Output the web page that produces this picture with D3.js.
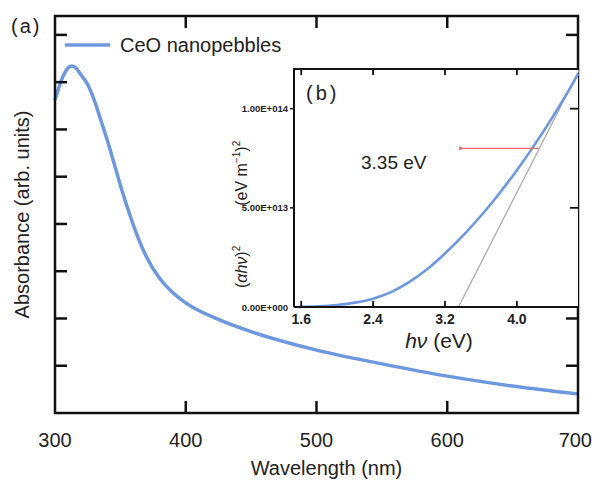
<!DOCTYPE html>
<html>
<head>
<meta charset="utf-8">
<script src="https://cdn.jsdelivr.net/npm/d3@7"></script>
<style>
  body { margin: 0; background: #fff; }
  text { font-family: "Liberation Sans", Arial, sans-serif; fill: #222; }
</style>
</head>
<body>
<div id="vis"></div>
<script>
// main spectrum: wavelength (nm) vs absorbance (arb. units, tick units)
const wavelength = [300, 305, 310, 313, 316, 320, 325, 330, 335, 340, 345, 350, 355, 360, 370, 380, 390, 400, 425, 450, 500, 550, 600, 650, 700];
const absorbance = [6.62, 7.05, 7.3, 7.34, 7.3, 7.15, 6.95, 6.62, 6.2, 5.77, 5.3, 4.82, 4.38, 3.97, 3.3, 2.85, 2.55, 2.33, 1.98, 1.72, 1.33, 1.04, 0.78, 0.57, 0.40];
const absTicks = [1, 2, 3, 4, 5, 6, 7, 8];
const wlTicks = [300, 400, 500, 600, 700];

// inset: photon energy vs (alpha h nu)^2
const energy = [1.55, 1.8, 2.0, 2.2, 2.4, 2.6, 2.8, 3.0, 3.2, 3.4, 3.6, 3.8, 4.0, 4.2, 4.4, 4.6, 4.68];
const tauc = [0, 0.03e13, 0.1e13, 0.22e13, 0.42e13, 0.75e13, 1.25e13, 1.9e13, 2.7e13, 3.6e13, 4.6e13, 5.7e13, 6.9e13, 8.2e13, 9.6e13, 11.1e13, 11.75e13];
const eTicks = [1.6, 2.4, 3.2, 4.0];
const tTicks = [0, 5e13, 1e14];
const tTickLabels = ["0.00E+000", "5.00E+013", "1.00E+014"];
const fitLine = [[3.35, 0], [4.7, 1.2e14]];
const arrow = [[4.24, 8.0e13], [3.41, 8.0e13]];

const W = 593, H = 483;
const blue = "#6d98de";
const red = "#e46a6a";

const svg = d3.select("#vis").append("svg")
    .attr("width", W).attr("height", H);

svg.append("defs").append("marker")
    .attr("id", "ah").attr("viewBox", "0 0 10 10")
    .attr("refX", 1).attr("refY", 5)
    .attr("markerWidth", 4).attr("markerHeight", 4)
    .attr("orient", "auto")
  .append("path").attr("d", "M10,1L0,5L10,9Z").attr("fill", red);

// ---- main plot ----
const m = {left: 55, top: 16, right: 578, bottom: 413};
const x = d3.scaleLinear().domain([300, 700]).range([m.left, m.right]);
const y = d3.scaleLinear().domain([0, 8.4]).range([m.bottom, m.top]);

const main = svg.append("g");

main.append("path")
    .datum(d3.zip(wavelength, absorbance))
    .attr("fill", "none")
    .attr("stroke", blue)
    .attr("stroke-width", 3.5)
    .attr("stroke-linejoin", "round")
    .attr("d", d3.line().x(d => x(d[0])).y(d => y(d[1])).curve(d3.curveMonotoneX));

// ticks, all inward
const tk = 12;
main.append("g").selectAll("line").data(wlTicks.slice(1, -1)).join("line")
    .attr("x1", d => x(d)).attr("x2", d => x(d))
    .attr("y1", m.bottom).attr("y2", m.bottom - tk)
    .attr("stroke", "#111").attr("stroke-width", 2.5);
main.append("g").selectAll("line").data(wlTicks.slice(1, -1)).join("line")
    .attr("x1", d => x(d)).attr("x2", d => x(d))
    .attr("y1", m.top).attr("y2", m.top + tk)
    .attr("stroke", "#111").attr("stroke-width", 2.5);
main.append("g").selectAll("line").data(absTicks).join("line")
    .attr("x1", m.left).attr("x2", m.left + tk)
    .attr("y1", d => y(d)).attr("y2", d => y(d))
    .attr("stroke", "#111").attr("stroke-width", 2.5);
main.append("g").selectAll("line").data(absTicks).join("line")
    .attr("x1", m.right).attr("x2", m.right - tk)
    .attr("y1", d => y(d)).attr("y2", d => y(d))
    .attr("stroke", "#111").attr("stroke-width", 2.5);

main.append("rect")
    .attr("x", m.left).attr("y", m.top)
    .attr("width", m.right - m.left).attr("height", m.bottom - m.top)
    .attr("fill", "none").attr("stroke", "#111").attr("stroke-width", 2.5);

// tick labels; keep the last one inside the page
main.append("g").selectAll("text").data(wlTicks).join("text")
    .attr("x", d => x(d)).attr("y", m.bottom + 34)
    .attr("text-anchor", "middle")
    .attr("font-size", 20)
    .text(d => d)
    .each(function() {
      const half = this.getComputedTextLength() / 2;
      const cx = +this.getAttribute("x");
      if (cx + half > W - 1) this.setAttribute("x", W - 1 - half);
    });

main.append("text")
    .attr("x", (m.left + m.right) / 2 + 10).attr("y", 475)
    .attr("text-anchor", "middle").attr("font-size", 20)
    .text("Wavelength (nm)");

main.append("text")
    .attr("transform", `translate(29,${(m.top + m.bottom) / 2}) rotate(-90)`)
    .attr("text-anchor", "middle").attr("font-size", 20)
    .text("Absorbance (arb. units)");

main.append("text")
    .attr("x", 11).attr("y", 33).attr("font-size", 20)
    .attr("letter-spacing", 2)
    .text("(a)");

// legend
main.append("line")
    .attr("x1", 65).attr("x2", 110).attr("y1", 45).attr("y2", 45)
    .attr("stroke", blue).attr("stroke-width", 3.5);
main.append("text")
    .attr("x", 120).attr("y", 52).attr("font-size", 20)
    .text("CeO nanopebbles");

// ---- inset ----
const n = {left: 294, top: 69, right: 578, bottom: 307};
const xi = d3.scaleLinear().domain([1.52, 4.68]).range([n.left, n.right]);
const yi = d3.scaleLinear().domain([0, 1.2e14]).range([n.bottom, n.top]);

const ins = svg.append("g");
ins.append("rect")
    .attr("x", n.left).attr("y", n.top)
    .attr("width", n.right - n.left).attr("height", n.bottom - n.top)
    .attr("fill", "#fff");

ins.append("path")
    .datum(fitLine)
    .attr("fill", "none").attr("stroke", "#aaa").attr("stroke-width", 1.3)
    .attr("d", d3.line().x(d => xi(d[0])).y(d => yi(d[1])));

ins.append("path")
    .datum(d3.zip(energy, tauc))
    .attr("fill", "none")
    .attr("stroke", blue)
    .attr("stroke-width", 2.6)
    .attr("d", d3.line().x(d => xi(d[0])).y(d => yi(d[1])).curve(d3.curveMonotoneX));

ins.append("path")
    .datum(arrow)
    .attr("fill", "none").attr("stroke", red).attr("stroke-width", 1.3)
    .attr("marker-end", "url(#ah)")
    .attr("d", d3.line().x(d => xi(d[0])).y(d => yi(d[1])));

const ti = 6;
ins.append("g").selectAll("line").data(eTicks).join("line")
    .attr("x1", d => xi(d)).attr("x2", d => xi(d))
    .attr("y1", n.bottom).attr("y2", n.bottom - ti)
    .attr("stroke", "#111").attr("stroke-width", 1.8);
ins.append("g").selectAll("line").data(eTicks).join("line")
    .attr("x1", d => xi(d)).attr("x2", d => xi(d))
    .attr("y1", n.top).attr("y2", n.top + ti)
    .attr("stroke", "#111").attr("stroke-width", 1.8);
ins.append("g").selectAll("line").data(tTicks.slice(1)).join("line")
    .attr("x1", n.left).attr("x2", n.left - 4)
    .attr("y1", d => yi(d)).attr("y2", d => yi(d))
    .attr("stroke", "#111").attr("stroke-width", 1.5);
ins.append("g").selectAll("line").data(tTicks.slice(1)).join("line")
    .attr("x1", n.right).attr("x2", n.right - 8)
    .attr("y1", d => yi(d)).attr("y2", d => yi(d))
    .attr("stroke", "#111").attr("stroke-width", 1.8);

ins.append("path")
    .attr("d", `M${n.left},${n.bottom}V${n.top}H${n.right}M${n.left},${n.bottom}H${n.right}`)
    .attr("fill", "none").attr("stroke", "#111").attr("stroke-width", 2);

ins.append("g").selectAll("text").data(eTicks).join("text")
    .attr("x", d => xi(d)).attr("y", n.bottom + 17)
    .attr("text-anchor", "middle").attr("font-size", 14).attr("font-weight", "bold")
    .attr("fill", "#333")
    .text(d => d.toFixed(1));

ins.append("g").selectAll("text").data(tTicks).join("text")
    .attr("x", n.left - 6).attr("y", d => yi(d) + 3.5)
    .attr("text-anchor", "end").attr("font-size", 9.5).attr("font-weight", "bold")
    .attr("fill", "#333")
    .text((d, i) => tTickLabels[i]);

const xl = ins.append("text")
    .attr("x", 439).attr("y", 348)
    .attr("text-anchor", "middle").attr("font-size", 21);
xl.append("tspan").attr("font-style", "italic").text("h\u03BD");
xl.append("tspan").text(" (eV)");

const yl = ins.append("text")
    .attr("transform", `translate(247,288) rotate(-90)`)
    .attr("text-anchor", "start").attr("font-size", 16);
yl.append("tspan").text("(");
yl.append("tspan").attr("font-style", "italic").text("\u03B1h\u03BD");
yl.append("tspan").text(")");
yl.append("tspan").attr("font-size", 10).attr("dy", -7).text("2");
yl.append("tspan").attr("dy", 7).attr("dx", 40).text("(eV m");
yl.append("tspan").attr("font-size", 10).attr("dy", -7).text("\u22121");
yl.append("tspan").attr("dy", 7).text(")");
yl.append("tspan").attr("font-size", 10).attr("dy", -7).text("2");

ins.append("text")
    .attr("x", 306).attr("y", 100).attr("font-size", 20)
    .attr("letter-spacing", 3)
    .text("(b)");

ins.append("text")
    .attr("x", 361).attr("y", 169).attr("font-size", 19)
    .text("3.35 eV");
</script>
</body>
</html>
